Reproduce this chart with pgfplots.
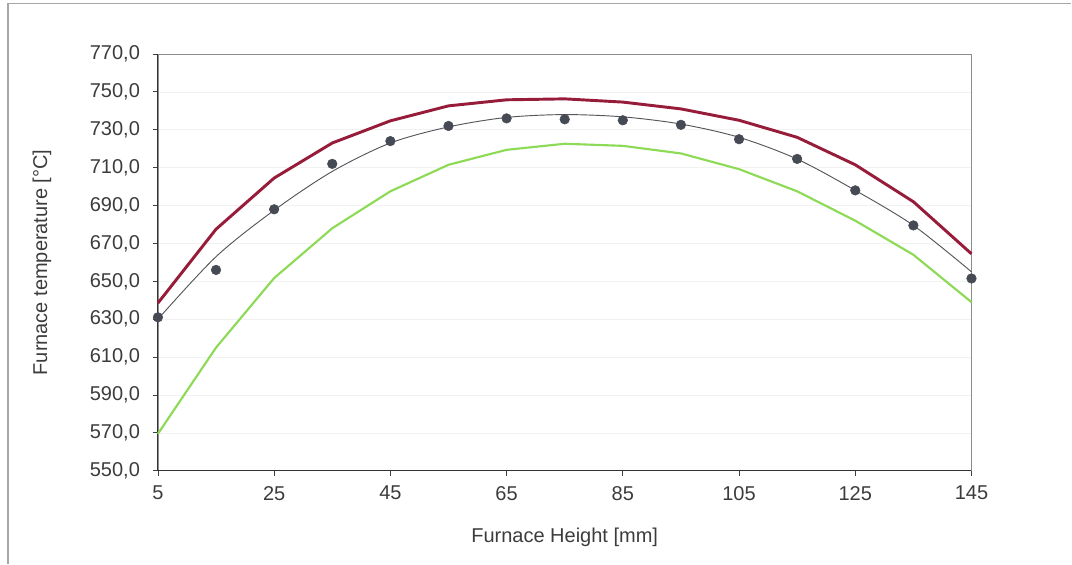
\documentclass[border=0pt]{standalone}
\usepackage{fontspec}
\setmainfont{Liberation Sans}
\usepackage{pgfplots}
\pgfplotsset{compat=1.18}
\definecolor{upperred}{RGB}{150,28,58}
\definecolor{lowergreen}{RGB}{140,218,85}
\definecolor{fitgray}{RGB}{85,85,90}
\definecolor{dotgray}{RGB}{70,74,84}
\definecolor{txt}{RGB}{60,60,60}

\begin{document}
\begin{tikzpicture}
\begin{axis}[
    scale only axis, width=610.5pt, height=312.75pt,
    xmin=5, xmax=145, ymin=550, ymax=770,
    xtick={5,25,...,145}, ytick={550,570,...,770},
    tick align=outside, xtick pos=bottom, ytick pos=left,
    major tick length=4pt,
    tick style={black!75, line width=0.6pt},
    axis line style={black!45, line width=0.5pt},
    ymajorgrids, grid style={black!5},
    font=\fontsize{15}{18}\selectfont\color{txt},
    yticklabel style={xshift=-6pt, /pgf/number format/fixed, /pgf/number format/fixed zerofill,
        /pgf/number format/precision=1, /pgf/number format/use comma, /pgf/number format/assume math mode=true},
    xticklabel style={yshift=-4pt, /pgf/number format/assume math mode=true},
    xlabel={Furnace Height [mm]}, ylabel={Furnace temperature [°C]},
    xlabel style={yshift=-14pt}, ylabel style={yshift=22pt},
    clip=false,
]
% chart area: page extent and frame
\path (rel axis cs:-0.1941,-0.223) rectangle (rel axis cs:1.1229,1.1295);
\draw[black!35, line width=0.8pt] (rel axis cs:-0.1843,-0.223) -- (rel axis cs:-0.1843,1.12) -- (rel axis cs:1.1229,1.12);
\draw[black!80, line width=0.7pt] (rel axis cs:0,1) -- (rel axis cs:0,0) -- (rel axis cs:1,0);

% upper curve
\addplot[upperred, line width=2.2pt, no marks] coordinates {
    (5,638.5) (15,677.5) (25,704.5) (35,723) (45,734.7) (55,742.6) (65,745.8) (75,746.3)
    (85,744.6) (95,741) (105,735) (115,726) (125,711.5) (135,692) (145,664.5)
};
% lower curve
\addplot[lowergreen, line width=1.6pt, no marks] coordinates {
    (5,569.5) (15,615) (25,651.7) (35,678) (45,697.5) (55,711.5) (65,719.4) (75,722.6)
    (85,721.5) (95,717.5) (105,709.2) (115,697.5) (125,682) (135,664) (145,639)
};
% fitted curve
\addplot[fitgray, line width=0.7pt, no marks, smooth] coordinates {
    (5,630) (15,663) (25,687.5) (35,708) (45,723) (55,731.5) (65,736.5) (75,738)
    (85,736.8) (95,733) (105,726) (115,714.5) (125,698) (135,679.5) (145,655)
};
% measured points
\addplot[only marks, mark=*, mark size=3.6pt, dotgray] coordinates {
    (5,631) (15,656) (25,688) (35,712) (45,724) (55,732) (65,736) (75,735.5)
    (85,735) (95,732.6) (105,725) (115,714.6) (125,698) (135,679.5) (145,651.5)
};
\end{axis}
\end{tikzpicture}
\end{document}
